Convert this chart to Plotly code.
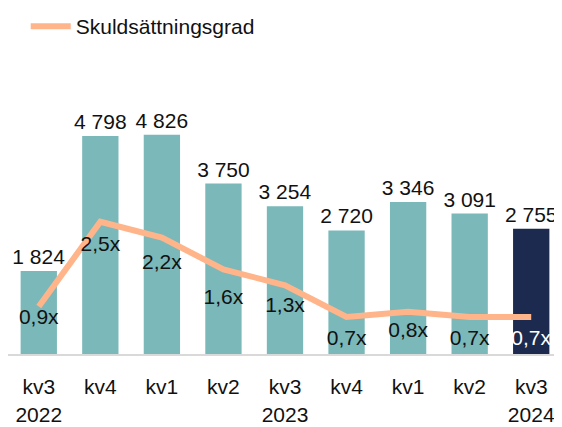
import plotly.graph_objects as go

quarters = ["kv3", "kv4", "kv1", "kv2", "kv3", "kv4", "kv1", "kv2", "kv3"]
years = ["2022", "", "", "", "2023", "", "", "", "2024"]
debt = [1824, 4798, 4826, 3750, 3254, 2720, 3346, 3091, 2755]
gearing = [0.9, 2.5, 2.2, 1.6, 1.3, 0.7, 0.8, 0.7, 0.7]

tick_text = [q + "<br>" + y if y else q for q, y in zip(quarters, years)]
xs = list(range(len(quarters)))

def fmt_thousands(v):
    return f"{v:,}".replace(",", " ")

bar_colors = ["#7AB8BA"] * (len(debt) - 1) + ["#1B2A4E"]
line_text_colors = ["#111111"] * (len(gearing) - 1) + ["#FFFFFF"]
# invisible marker sizes, used only to push each label below its point
label_pad = [2, 20, 24, 28, 16, 18, 14, 18, 18]

FONT = "Liberation Sans, Arial, sans-serif"

fig = go.Figure()
fig.add_trace(go.Bar(
    x=xs, y=debt,
    marker=dict(color=bar_colors, line=dict(width=0)),
    text=[fmt_thousands(v) for v in debt],
    textposition="outside",
    constraintext="none",
    textfont=dict(size=21, color="#111111", family=FONT),
    cliponaxis=False,
    showlegend=False,
    hoverinfo="skip",
))
fig.add_trace(go.Scatter(
    x=xs, y=gearing,
    mode="lines+markers+text",
    name="Skuldsättningsgrad",
    line=dict(color="#FFB48A", width=6),
    marker=dict(size=label_pad, color="rgba(0,0,0,0)", line=dict(width=0)),
    text=[f"{v:.1f}x".replace(".", ",") for v in gearing],
    textposition="bottom center",
    textfont=dict(size=21, color=line_text_colors, family=FONT),
    yaxis="y2",
    cliponaxis=False,
))

# page body has an 8px default margin; figure sized to fit the window
fig.update_layout(
    width=554, height=419,
    margin=dict(l=0, r=0, t=72, b=73, autoexpand=False),
    paper_bgcolor="white",
    plot_bgcolor="white",
    font=dict(family=FONT, size=21, color="#111111"),
    bargap=0.41,
    showlegend=True,
    legend=dict(
        x=0.032, xanchor="left", y=1.27, yanchor="top",
        yref="paper", xref="paper",
        orientation="h",
        font=dict(size=21, color="#111111", family=FONT),
        bgcolor="rgba(0,0,0,0)",
        itemwidth=40,
    ),
    xaxis=dict(
        tickmode="array", tickvals=xs, ticktext=tick_text,
        range=[-0.5, len(xs) - 0.5],
        showline=True, linecolor="#D9D9D9", linewidth=2,
        showgrid=False, zeroline=False, ticks="",
        ticklabelstandoff=13,
        automargin=False,
        tickfont=dict(size=21, color="#111111", family=FONT),
        fixedrange=True,
    ),
    yaxis=dict(range=[0, 6030], visible=False, showgrid=False, zeroline=False,
               automargin=False),
    yaxis2=dict(range=[0, 5.18], overlaying="y", side="right", visible=False,
                showgrid=False, zeroline=False, automargin=False),
)

fig.write_html("out.html")
